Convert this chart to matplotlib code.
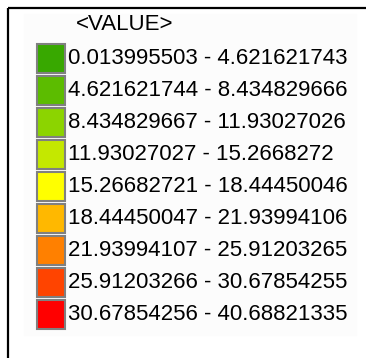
import matplotlib.pyplot as plt
from matplotlib.patches import Rectangle

# Legend data
title = '<VALUE>'
labels = ['0.013995503 - 4.621621743',
          '4.621621744 - 8.434829666',
          '8.434829667 - 11.93027026',
          '11.93027027 - 15.2668272',
          '15.26682721 - 18.44450046',
          '18.44450047 - 21.93994106',
          '21.93994107 - 25.91203265',
          '25.91203266 - 30.67854255',
          '30.67854256 - 40.68821335']
colors = ['#38a800', '#5cbc00', '#8cd400', '#c4e800', '#ffff00',
          '#ffb800', '#ff8000', '#ff4400', '#ff0000']

W, H = 366, 358
fig = plt.figure(figsize=(W / 100, H / 100), dpi=100)
ax = fig.add_axes([0, 0, 1, 1])
ax.set_xlim(0, W)
ax.set_ylim(H, 0)
ax.axis('off')

# faint panel and the frame (top and left edges only)
ax.add_patch(Rectangle((24, 14), 332, 321, color='#fcfcfc', zorder=0))
ax.plot([7.5, W], [7.5, 7.5], color='black', lw=1.6, solid_capstyle='butt')
ax.plot([7.5, 7.5], [7.5, H], color='black', lw=1.6, solid_capstyle='butt')

font = ['Liberation Sans', 'DejaVu Sans']
ax.text(76, 24, title, fontsize=16, family=font, va='center', ha='left')

top0, step = 44, 32
for i, (lab, col) in enumerate(zip(labels, colors)):
    y = top0 + i * step
    ax.add_patch(Rectangle((36.5, y), 28, 29, facecolor=col,
                           edgecolor='#808080', lw=1.5))
    ax.text(68, y + 15, lab, fontsize=16, family=font, va='center', ha='left')

plt.savefig('out.png', dpi=100)
